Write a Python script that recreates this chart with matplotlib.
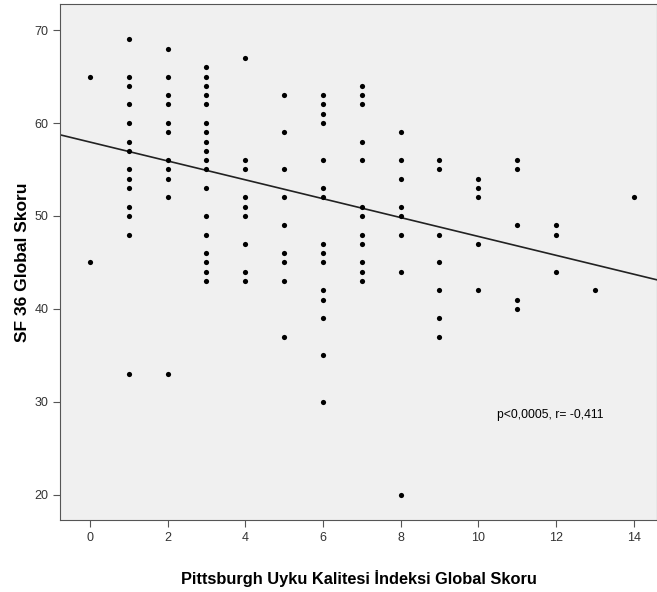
import numpy as np
import matplotlib.pyplot as plt

# PUKI global skoru -> SF 36 global skoru (her sütun için okunan değerler)
psqi_0 = [65, 45]
psqi_1 = [69, 65, 64, 62, 60, 58, 57, 55, 54, 53, 51, 50, 48, 33]
psqi_2 = [68, 65, 63, 62, 60, 59, 56, 55, 54, 52, 33]
psqi_3 = [66, 65, 64, 63, 62, 60, 59, 58, 57, 56, 55, 53, 50, 48, 46, 45, 44, 43]
psqi_4 = [67, 56, 55, 52, 51, 50, 47, 44, 43]
psqi_5 = [63, 59, 55, 52, 49, 46, 45, 43, 37]
psqi_6 = [63, 62, 61, 60, 56, 53, 52, 47, 46, 45, 42, 41, 39, 35, 30]
psqi_7 = [64, 63, 62, 58, 56, 51, 50, 48, 47, 45, 44, 43]
psqi_8 = [59, 56, 54, 51, 50, 48, 44, 20]
psqi_9 = [56, 55, 48, 45, 42, 39, 37]
psqi_10 = [54, 53, 52, 47, 42]
psqi_11 = [56, 55, 49, 41, 40]
psqi_12 = [49, 48, 44]
psqi_13 = [42]
psqi_14 = [52]

columns = [psqi_0, psqi_1, psqi_2, psqi_3, psqi_4, psqi_5, psqi_6, psqi_7,
           psqi_8, psqi_9, psqi_10, psqi_11, psqi_12, psqi_13, psqi_14]
x_ticks = [0, 2, 4, 6, 8, 10, 12, 14]
y_ticks = [20, 30, 40, 50, 60, 70]

# SPSS çıktısındaki uyum çizgisi (üst üste binen noktalar dahil)
fit_intercept = 57.95
fit_slope = -1.015

x = np.concatenate([[i] * len(c) for i, c in enumerate(columns)]).astype(float)
y = np.concatenate(columns).astype(float)

fig = plt.figure(figsize=(6.57, 5.92), dpi=100)
ax = fig.add_axes([60 / 657, 72 / 592, 597 / 657, 516 / 592])
ax.set_facecolor("#f0f0f0")

ax.scatter(x, y, s=14, color="black", linewidths=0, zorder=3)

xlim = (-0.77, 14.6)
xs = np.array(xlim)
ax.plot(xs, fit_intercept + fit_slope * xs, color="#222222", linewidth=1.2, zorder=2)

ax.text(10.47, 28.6, "p<0,0005, r= -0,411", fontsize=8.7,
        family="Liberation Sans", va="center")

ax.set_xlim(xlim)
ax.set_ylim(17.3, 72.8)
ax.set_xticks(x_ticks)
ax.set_yticks(y_ticks)
for s in ax.spines.values():
    s.set_color("#555555")
ax.tick_params(direction="out", length=5, color="#555555", labelcolor="#333333",
               labelsize=9)
for lbl in ax.get_xticklabels() + ax.get_yticklabels():
    lbl.set_family("Liberation Sans")

ax.set_xlabel("Pittsburgh Uyku Kalitesi İndeksi Global Skoru", fontsize=11.8,
              fontweight="bold", labelpad=19, family="Liberation Sans")
ax.set_ylabel("SF 36 Global Skoru", fontsize=12.5, fontweight="bold", labelpad=3,
              family="Liberation Sans")

fig.savefig("out.png", dpi=100)
